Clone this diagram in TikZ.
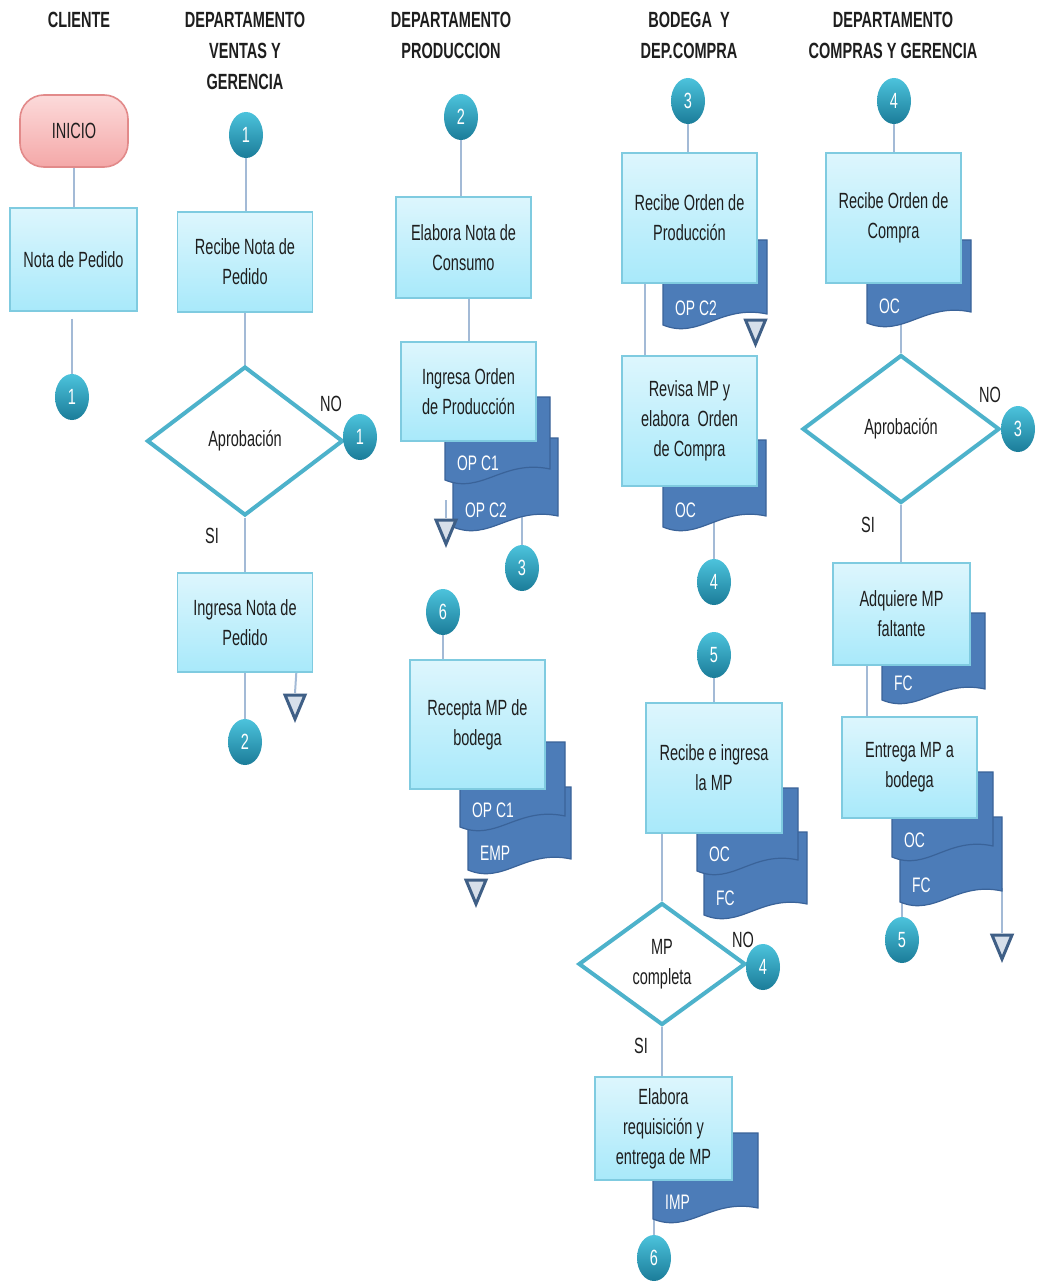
\documentclass[tikz,border=0pt]{standalone}
\usepackage{fontspec}
\setmainfont{Liberation Sans}[FakeStretch=0.66]
\usetikzlibrary{shapes.geometric,backgrounds}

\definecolor{boxline}{HTML}{7FCBE0}
\definecolor{boxtop}{HTML}{DDF6FD}
\definecolor{boxbot}{HTML}{A8E9FA}
\definecolor{flow}{HTML}{A3BAD6}
\definecolor{decline}{HTML}{4DB2CB}
\definecolor{docfill}{HTML}{4C7CB8}
\definecolor{docline}{HTML}{3A6399}
\definecolor{contop}{HTML}{4CC3DC}
\definecolor{conbot}{HTML}{1B7C99}
\definecolor{triline}{HTML}{3F5F86}
\definecolor{trifill}{HTML}{D6DFEA}
\definecolor{starttop}{HTML}{FCDADA}
\definecolor{startbot}{HTML}{F4A8A8}
\definecolor{startline}{HTML}{E28A8A}
\definecolor{ink}{HTML}{1E1E1E}

\tikzset{
  body/.style={font=\fontsize{22}{30}\selectfont, text=ink},
  head/.style={font=\bfseries\fontsize{22}{31}\selectfont, align=center, inner sep=0pt, text=ink},
  procbox/.style={body, draw=boxline, line width=1.6pt, top color=boxtop, bottom color=boxbot,
    align=center, inner sep=0pt},
  startbox/.style={body, draw=startline, line width=1.6pt, top color=starttop, bottom color=startbot,
    rounded corners=24pt, inner sep=0pt, minimum width=108pt, minimum height=72pt},
  decision/.style={body, diamond, draw=decline, line width=4pt, fill=white, inner sep=0pt, align=center},
  conn/.style={ellipse, minimum width=34pt, minimum height=46pt, inner sep=0pt,
    top color=contop, bottom color=conbot, text=white, font=\fontsize{22}{26}\selectfont},
  flowline/.style={draw=flow, line width=2pt},
  sheet/.style={fill=docfill, draw=docline, line width=1.2pt},
  sheettext/.style={text=white, font=\fontsize{21}{26}\selectfont, inner sep=0pt},
  stopstyle/.style={draw=triline, fill=trifill, line width=3pt, line join=miter},
  answer/.style={body, inner sep=0pt}
}

% document sheet with wavy lower edge: name, left, top, right, bottom, label
\newcommand\paperdoc[6]{%
  \draw[sheet] (#2,#3) -- (#4,#3) -- (#4,#5-14)
    .. controls ({#2+0.55*(#4-#2)},#5-24) and ({#2+0.35*(#4-#2)},#5+12) .. (#2,#5-3) -- cycle;
  \node[sheettext, anchor=west] (#1) at (#2+12,#5-20) {#6};
}
% off-page mark (downward triangle): name, x, top
\newcommand\stopmark[3]{%
  \coordinate (#1) at (#2,#3);
  \draw[stopstyle] (#2-10,#3+2) -- (#2+10,#3+2) -- (#2,#3+26) -- cycle;
}

\begin{document}
\begin{tikzpicture}[x=1pt,y=-1pt]
\useasboundingbox (0,0) rectangle (1037,1281);

% ---------- lane titles ----------
\node[head] (h1) at (79,20) {CLIENTE};
\node[head] (h2) at (245,51) {DEPARTAMENTO\\VENTAS Y\\GERENCIA};
\node[head] (h3) at (451,35) {DEPARTAMENTO\\PRODUCCION};
\node[head] (h4) at (689,35) {BODEGA~ Y\\DEP.COMPRA};
\node[head] (h5) at (893,35) {DEPARTAMENTO\\COMPRAS Y GERENCIA};

% ---------- documents (behind the process boxes; lower sheet first) ----------
\paperdoc{d2}{453}{438}{558}{530}{OP C2}
\paperdoc{d1}{445}{397}{550}{483}{OP C1}
\paperdoc{d4}{468}{787}{571}{873}{EMP}
\paperdoc{d3}{460}{742}{565}{830}{OP C1}
\paperdoc{d5}{663}{240}{767}{328}{OP C2}
\paperdoc{d6}{663}{440}{766}{530}{OC}
\paperdoc{d8}{704}{832}{807}{918}{FC}
\paperdoc{d7}{697}{788}{798}{874}{OC}
\paperdoc{d9}{653}{1133}{758}{1222}{IMP}
\paperdoc{d10}{867}{240}{971}{326}{OC}
\paperdoc{d11}{882}{613}{985}{703}{FC}
\paperdoc{d13}{900}{817}{1002}{905}{FC}
\paperdoc{d12}{892}{772}{993}{860}{OC}

% ---------- CLIENTE ----------
\node[startbox] (start) at (74,131) {INICIO};
\node[procbox, minimum width=127pt, minimum height=103pt] (nota) at (73.5,259.5) {Nota de Pedido};
\node[conn] (c1a) at (72,397) {1};

% ---------- VENTAS Y GERENCIA ----------
\node[conn] (c1b) at (246,135) {1};
\node[procbox, minimum width=135pt, minimum height=100pt] (rnp) at (245,262) {Recibe Nota de\\Pedido};
\node[decision, minimum width=196pt, minimum height=149pt] (ap1) at (245,441) {Aprobación};
\node[answer] (no1) at (331,404) {NO};
\node[conn] (c1c) at (360,437) {1};
\node[answer] (si1) at (212,536) {SI};
\node[procbox, minimum width=135pt, minimum height=99pt] (inp) at (245,622.5) {Ingresa Nota de\\Pedido};
\node[conn] (c2a) at (245,742) {2};
\stopmark{t1}{295}{693}

% ---------- PRODUCCION ----------
\node[conn] (c2b) at (461,117) {2};
\node[procbox, minimum width=135pt, minimum height=101pt] (enc) at (463.5,247.5) {Elabora Nota de\\Consumo};
\node[procbox, minimum width=135pt, minimum height=99pt] (iop) at (468.5,391.5) {Ingresa Orden\\de Producción};
\coordinate (s2) at (446,500);
\stopmark{t2}{446}{518}
\node[conn] (c3a) at (522,568) {3};
\node[conn] (c6a) at (443,612) {6};
\node[procbox, minimum width=135pt, minimum height=129pt] (rmp) at (477.5,724.5) {Recepta MP de\\bodega};
\stopmark{t3}{476}{878}

% ---------- BODEGA Y DEP.COMPRA ----------
\node[conn] (c3b) at (688,101) {3};
\node[procbox, minimum width=135pt, minimum height=130pt] (rop) at (689.5,218) {Recibe Orden de\\Producción};
\stopmark{t4}{755.5}{318}
\node[procbox, minimum width=135pt, minimum height=130pt] (rev) at (689.5,421) {Revisa MP y\\elabora~ Orden\\de Compra};
\node[conn] (c4a) at (714,582) {4};
\node[conn] (c5a) at (714,655) {5};
\node[procbox, minimum width=136pt, minimum height=130pt] (rim) at (714,768) {Recibe e ingresa\\la MP};
\node[decision, minimum width=167pt, minimum height=122pt] (mpc) at (662,964) {MP\\completa};
\node[answer] (no2) at (743,940) {NO};
\node[conn] (c4b) at (763,967) {4};
\node[answer] (si2) at (641,1046) {SI};
\node[procbox, minimum width=137pt, minimum height=103pt] (ereq) at (663.5,1128.5) {Elabora\\requisición y\\entrega de MP};
\node[conn] (c6b) at (654,1258) {6};

% ---------- COMPRAS Y GERENCIA ----------
\node[conn] (c4c) at (894,101) {4};
\node[procbox, minimum width=135pt, minimum height=130pt] (roc) at (893.5,218) {Recibe Orden de\\Compra};
\node[decision, minimum width=197pt, minimum height=148pt] (ap2) at (901,429) {Aprobación};
\node[answer] (no3) at (990,395) {NO};
\node[conn] (c3c) at (1018,429) {3};
\node[answer] (si3) at (868,525) {SI};
\node[procbox, minimum width=137pt, minimum height=102pt] (adq) at (901.5,614) {Adquiere MP\\faltante};
\node[procbox, minimum width=135pt, minimum height=101pt] (ent) at (909.5,767.5) {Entrega MP a\\bodega};
\node[conn] (c5b) at (902,940) {5};
\stopmark{t5}{1002}{933}

% ---------- flow lines, under every shape ----------
\begin{pgfonlayer}{background}
\fill[white] (0,0) rectangle (1037,1281);

\draw[flowline] (start.south) -- (start.south |- nota.north);
\draw[flowline, shorten <=7pt] (c1a |- nota.south) -- (c1a.north);

\draw[flowline] (c1b.south) -- (c1b.south |- rnp.north);
\draw[flowline] (rnp.south) -- (ap1.north);
\draw[flowline] (ap1.south) -- (inp.north);
\draw[flowline] (inp.south) -- (c2a.north);
\draw[flowline] ([xshift=-17pt]inp.south east) -- (t1);

\draw[flowline] (c2b.south) -- (c2b.south |- enc.north);
\draw[flowline] (enc.south -| iop.north) -- (iop.north);
\draw[flowline] (s2) -- (t2);
\draw[flowline] (c3a.north) -- ++(0,-50);
\draw[flowline] (c6a.south) -- (c6a.south |- rmp.north);

\draw[flowline] (c3b.south) -- (c3b.south |- rop.north);
\draw[flowline] ([xshift=-44.5pt]rop.south) -- ([xshift=-44.5pt]rev.north);
\draw[flowline] (c4a.north) -- ++(0,-50);
\draw[flowline] (c5a.south) -- (c5a.south |- rim.north);
\draw[flowline] (mpc.north |- rim.south) -- (mpc.north);
\draw[flowline] (mpc.south) -- (mpc.south |- ereq.north);
\draw[flowline] (c6b.north) -- ++(0,-50);

\draw[flowline] (c4c.south) -- (c4c.south |- roc.north);
\draw[flowline] (ap2.north) -- ++(0,-40);
\draw[flowline] (ap2.south) -- (ap2.south |- adq.north);
\draw[flowline] ([xshift=-34.5pt]adq.south) -- ([xshift=-34.5pt]adq.south |- ent.north);
\draw[flowline] (c5b.north) -- ++(0,-45);
\draw[flowline] (t5) -- ++(0,-45);
\end{pgfonlayer}
\end{tikzpicture}
\end{document}
